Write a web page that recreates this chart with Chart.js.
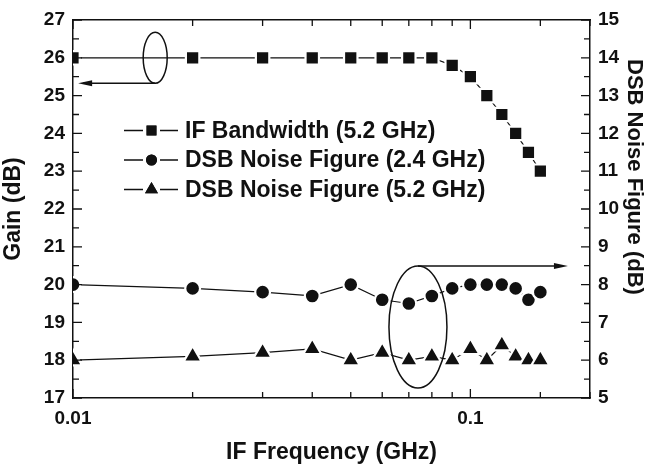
<!DOCTYPE html>
<html>
<head>
<meta charset="utf-8">
<script src="https://cdn.jsdelivr.net/npm/chart.js@4"></script>
<style>
  html, body { margin: 0; padding: 0; background: #fff; }
  #wrap { width: 645px; height: 466px; }
</style>
</head>
<body>
<div id="wrap"><canvas id="chart"></canvas></div>
<script>
"use strict";

// IF-frekvens (GHz)
const freqs = [0.01, 0.02, 0.03, 0.04, 0.05, 0.06, 0.07, 0.08, 0.09, 0.10, 0.11, 0.12, 0.13, 0.14, 0.15];
// Gain (dB), vänster axel
const gainIF = [26, 26, 26, 26, 26, 26, 26, 26, 25.8, 25.5, 25.0, 24.5, 24.0, 23.5, 23.0];
// DSB NF (dB), höger axel
const nf24 = [8.0, 7.9, 7.8, 7.7, 8.0, 7.6, 7.5, 7.7, 7.9, 8.0, 8.0, 8.0, 7.9, 7.6, 7.8];
const nf52 = [6.0, 6.1, 6.2, 6.3, 6.0, 6.2, 6.0, 6.1, 6.0, 6.3, 6.0, 6.4, 6.1, 6.0, 6.0];

const seriesNames = ["IF Bandwidth (5.2 GHz)", "DSB Noise Figure (2.4 GHz)", "DSB Noise Figure (5.2 GHz)"];
const seriesMarkers = ["rect", "circle", "triangle"];
const xLabels = [0.01, 0.1];
const rightTitle = "DSB Noise Figure (dB)";

const FONT = "'Liberation Sans', Arial, sans-serif";

function toPoints(ys) {
    return freqs.map((f, i) => ({ x: f, y: ys[i] }));
}

function makeSet(i, ys, axis, radius) {
    return {
        label: seriesNames[i],
        data: toPoints(ys),
        yAxisID: axis,
        borderColor: '#111',
        borderWidth: 1.2,
        pointStyle: seriesMarkers[i],
        pointRadius: radius,
        pointBackgroundColor: '#111',
        pointBorderColor: '#fff',
        pointBorderWidth: 2.2,
        tension: 0
    };
}

/* Inåtriktade tickmarkeringar på alla fyra sidor */
const innerTicks = {
    id: 'innerTicks',
    afterDraw(chart) {
        const { ctx, chartArea: a, scales } = chart;
        ctx.save();
        ctx.strokeStyle = '#111';
        ctx.lineWidth = 1.3;
        ctx.beginPath();
        scales.x.ticks.forEach(t => {
            const px = scales.x.getPixelForValue(t.value);
            const major = xLabels.some(v => Math.abs(v - t.value) < 1e-9);
            const len = major ? 9 : 6;
            ctx.moveTo(px, a.bottom); ctx.lineTo(px, a.bottom - len);
            ctx.moveTo(px, a.top); ctx.lineTo(px, a.top + len);
        });
        ['y', 'y2'].forEach(id => {
            const s = scales[id];
            for (let v = s.min; v <= s.max + 1e-9; v += 0.5) {
                const py = s.getPixelForValue(v);
                const len = Number.isInteger(v) ? 9 : 6;
                if (id === 'y') { ctx.moveTo(a.left, py); ctx.lineTo(a.left + len, py); }
                else { ctx.moveTo(a.right, py); ctx.lineTo(a.right - len, py); }
            }
        });
        ctx.stroke();

        // högeraxelns titel, läses uppifrån och ned
        ctx.font = "bold 22px " + FONT;
        ctx.fillStyle = '#111';
        ctx.textAlign = 'center';
        ctx.textBaseline = 'middle';
        ctx.translate(634, 177);
        ctx.rotate(Math.PI / 2);
        ctx.fillText(rightTitle, 0, 0);
        ctx.restore();
    }
};

/* Förklaring inne i diagrammet samt ellipser med pilar */
const annotations = {
    id: 'annotations',
    afterDatasetsDraw(chart) {
        const { ctx, scales } = chart;
        const sx = scales.x, sy = scales.y;
        ctx.save();
        ctx.strokeStyle = '#111';
        ctx.fillStyle = '#111';
        ctx.lineWidth = 1.5;

        // vänster ellips -> Gain-axel
        const ex1 = sx.getPixelForValue(0.0161), ey1 = sy.getPixelForValue(26);
        ctx.beginPath();
        ctx.ellipse(ex1, ey1, 12, 25.5, 0, 0, Math.PI * 2);
        ctx.stroke();
        const ay1 = ey1 + 25.5;
        ctx.beginPath();
        ctx.moveTo(ex1, ay1); ctx.lineTo(sx.getPixelForValue(0.0106), ay1);
        ctx.stroke();
        arrowHead(ctx, sx.getPixelForValue(0.0103), ay1, -1);

        // höger ellips -> NF-axel
        const ex2 = sx.getPixelForValue(0.0738), ey2 = sy.getPixelForValue(18.88);
        ctx.beginPath();
        ctx.ellipse(ex2, ey2, 29, 61, 0, 0, Math.PI * 2);
        ctx.stroke();
        const ay2 = ey2 - 61;
        ctx.beginPath();
        ctx.moveTo(ex2, ay2); ctx.lineTo(sx.getPixelForValue(0.170), ay2);
        ctx.stroke();
        arrowHead(ctx, sx.getPixelForValue(0.176), ay2, 1);

        // förklaring
        ctx.font = "bold 23px " + FONT;
        ctx.textBaseline = 'middle';
        const lx = 124, ly = 130.5, gap = 29.5;
        const sizes = [7, 5.5, 7.5];
        seriesNames.forEach((name, i) => {
            const y = ly + i * gap;
            ctx.lineWidth = 1.3;
            ctx.beginPath();
            ctx.moveTo(lx, y); ctx.lineTo(lx + 19, y);
            ctx.moveTo(lx + 36, y); ctx.lineTo(lx + 54, y);
            ctx.stroke();
            ctx.beginPath();
            Chart.helpers.drawPoint(ctx, { pointStyle: seriesMarkers[i], radius: sizes[i], borderWidth: 0 }, lx + 27.5, y);
            ctx.fill();
            ctx.fillText(name, lx + 61, y + 1);
        });
        ctx.restore();
    }
};

function arrowHead(ctx, x, y, dir) {
    ctx.beginPath();
    ctx.moveTo(x, y);
    ctx.lineTo(x - dir * 14, y - 3);
    ctx.lineTo(x - dir * 14, y + 3);
    ctx.closePath();
    ctx.fill();
}

const tickFont = { family: FONT, size: 19, weight: 'bold' };
const titleFont = { family: FONT, size: 23, weight: 'bold' };

new Chart(document.getElementById('chart'), {
    type: 'line',
    data: {
        datasets: [
            makeSet(0, gainIF, 'y', 9.5),
            makeSet(1, nf24, 'y2', 7.4),
            makeSet(2, nf52, 'y2', 10.5)
        ]
    },
    options: {
        responsive: true,
        maintainAspectRatio: false,
        animation: false,
        layout: { padding: { top: 20, right: 0, left: 0, bottom: 0 } },
        plugins: {
            legend: { display: false },
            tooltip: { enabled: false }
        },
        scales: {
            x: {
                type: 'logarithmic',
                min: 0.01,
                max: 0.2,
                border: { display: true, color: '#111', width: 1.5 },
                grid: { drawOnChartArea: false, drawTicks: false },
                ticks: {
                    autoSkip: false,
                    maxRotation: 0,
                    padding: 9,
                    color: '#111',
                    font: tickFont,
                    callback: value => xLabels.some(v => Math.abs(v - value) < 1e-9) ? String(value) : ''
                },
                title: { display: true, text: 'IF Frequency (GHz)', color: '#111', font: titleFont, padding: { top: 8, bottom: 0 } },
                afterFit: s => { s.height = 68; }
            },
            x2: {
                type: 'logarithmic',
                position: 'top',
                min: 0.01,
                max: 0.2,
                border: { display: true, color: '#111', width: 1.5 },
                grid: { drawOnChartArea: false, drawTicks: false },
                ticks: { display: false },
                afterFit: s => { s.height = 0; }
            },
            y: {
                position: 'left',
                min: 17,
                max: 27,
                border: { display: true, color: '#111', width: 1.5 },
                grid: { drawOnChartArea: false, drawTicks: false },
                ticks: { stepSize: 1, padding: 8, color: '#111', font: tickFont },
                title: { display: true, text: 'Gain (dB)', color: '#111', font: titleFont, padding: { top: 0, bottom: 3 } },
                afterFit: s => { s.width = 73; }
            },
            y2: {
                position: 'right',
                min: 5,
                max: 15,
                border: { display: true, color: '#111', width: 1.5 },
                grid: { drawOnChartArea: false, drawTicks: false },
                ticks: { stepSize: 1, padding: 8, color: '#111', font: tickFont },
                afterFit: s => { s.width = 55; }
            }
        }
    },
    plugins: [innerTicks, annotations]
});
</script>
</body>
</html>
